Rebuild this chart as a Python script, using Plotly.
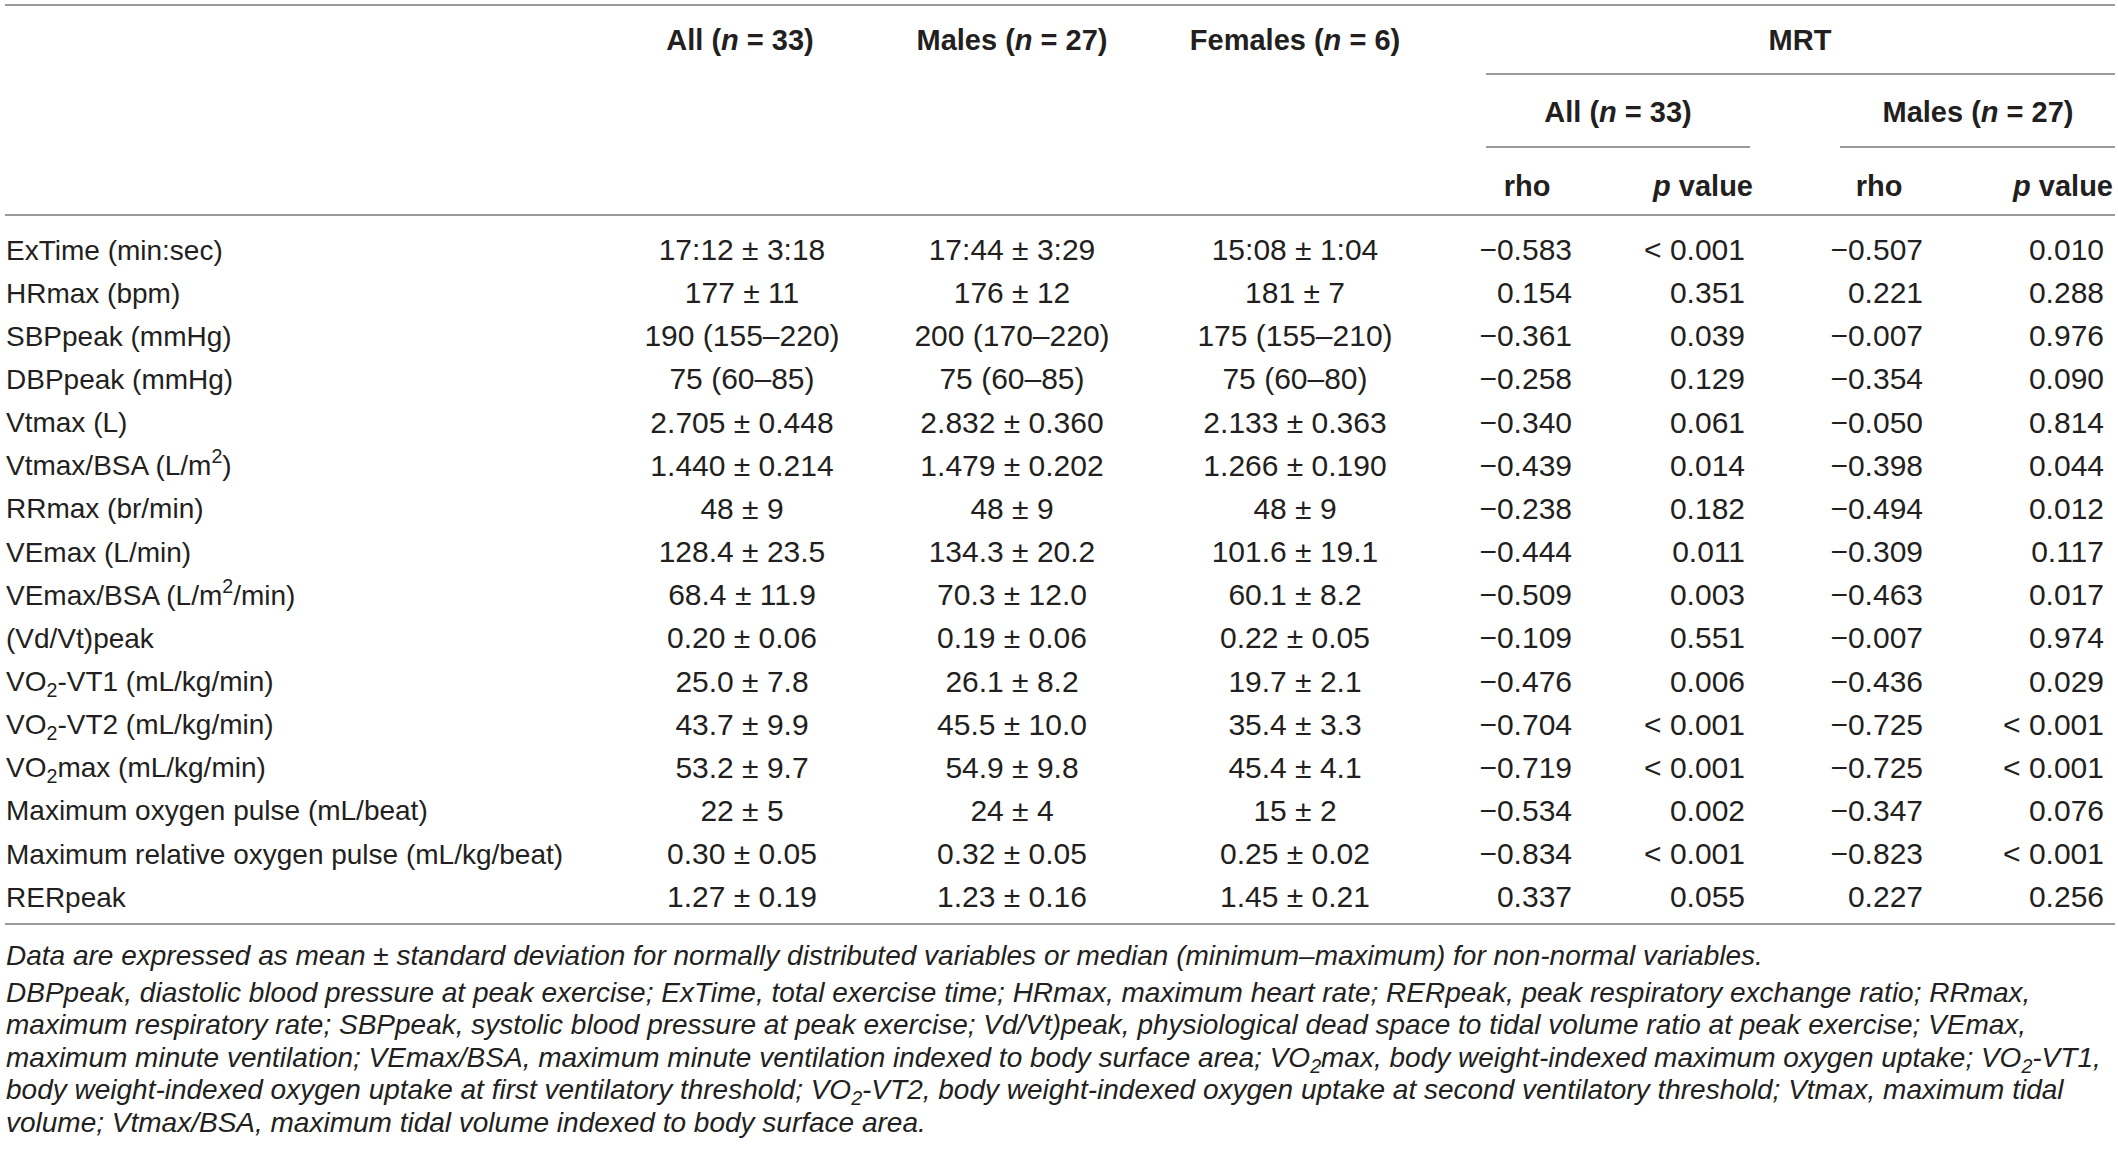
import plotly.graph_objs as go

# Table content
labels = ["ExTime (min:sec)", "HRmax (bpm)", "SBPpeak (mmHg)", "DBPpeak (mmHg)", "Vtmax (L)",
          "Vtmax/BSA (L/m<sup>2</sup>)", "RRmax (br/min)", "VEmax (L/min)",
          "VEmax/BSA (L/m<sup>2</sup>/min)", "(Vd/Vt)peak", "VO<sub>2</sub>-VT1 (mL/kg/min)",
          "VO<sub>2</sub>-VT2 (mL/kg/min)", "VO<sub>2</sub>max (mL/kg/min)",
          "Maximum oxygen pulse (mL/beat)", "Maximum relative oxygen pulse (mL/kg/beat)", "RERpeak"]
all_vals = ["17:12 ± 3:18", "177 ± 11", "190 (155–220)", "75 (60–85)", "2.705 ± 0.448", "1.440 ± 0.214",
            "48 ± 9", "128.4 ± 23.5", "68.4 ± 11.9", "0.20 ± 0.06", "25.0 ± 7.8", "43.7 ± 9.9",
            "53.2 ± 9.7", "22 ± 5", "0.30 ± 0.05", "1.27 ± 0.19"]
male_vals = ["17:44 ± 3:29", "176 ± 12", "200 (170–220)", "75 (60–85)", "2.832 ± 0.360", "1.479 ± 0.202",
             "48 ± 9", "134.3 ± 20.2", "70.3 ± 12.0", "0.19 ± 0.06", "26.1 ± 8.2", "45.5 ± 10.0",
             "54.9 ± 9.8", "24 ± 4", "0.32 ± 0.05", "1.23 ± 0.16"]
female_vals = ["15:08 ± 1:04", "181 ± 7", "175 (155–210)", "75 (60–80)", "2.133 ± 0.363", "1.266 ± 0.190",
               "48 ± 9", "101.6 ± 19.1", "60.1 ± 8.2", "0.22 ± 0.05", "19.7 ± 2.1", "35.4 ± 3.3",
               "45.4 ± 4.1", "15 ± 2", "0.25 ± 0.02", "1.45 ± 0.21"]
rho_all = ["−0.583", "0.154", "−0.361", "−0.258", "−0.340", "−0.439", "−0.238", "−0.444",
           "−0.509", "−0.109", "−0.476", "−0.704", "−0.719", "−0.534", "−0.834", "0.337"]
p_all = ["< 0.001", "0.351", "0.039", "0.129", "0.061", "0.014", "0.182", "0.011",
         "0.003", "0.551", "0.006", "< 0.001", "< 0.001", "0.002", "< 0.001", "0.055"]
rho_male = ["−0.507", "0.221", "−0.007", "−0.354", "−0.050", "−0.398", "−0.494", "−0.309",
            "−0.463", "−0.007", "−0.436", "−0.725", "−0.725", "−0.347", "−0.823", "0.227"]
p_male = ["0.010", "0.288", "0.976", "0.090", "0.814", "0.044", "0.012", "0.117",
          "0.017", "0.974", "0.029", "< 0.001", "< 0.001", "0.076", "< 0.001", "0.256"]

footnotes = [
    "Data are expressed as mean ± standard deviation for normally distributed variables or median (minimum–maximum) for non-normal variables.",
    "DBPpeak, diastolic blood pressure at peak exercise; ExTime, total exercise time; HRmax, maximum heart rate; RERpeak, peak respiratory exchange ratio; RRmax,",
    "maximum respiratory rate; SBPpeak, systolic blood pressure at peak exercise; Vd/Vt)peak, physiological dead space to tidal volume ratio at peak exercise; VEmax,",
    "maximum minute ventilation; VEmax/BSA, maximum minute ventilation indexed to body surface area; VO<sub>2</sub>max, body weight-indexed maximum oxygen uptake; VO<sub>2</sub>-VT1,",
    "body weight-indexed oxygen uptake at first ventilatory threshold; VO<sub>2</sub>-VT2, body weight-indexed oxygen uptake at second ventilatory threshold; Vtmax, maximum tidal",
    "volume; Vtmax/BSA, maximum tidal volume indexed to body surface area.",
]

W, H = 2118, 1165
FONT = "Liberation Sans, Arial, Helvetica, sans-serif"
INK = "#231f20"
RULE = "#9a9a9a"

# row geometry (pixel space, y grows downward)
row0, row_h = 252.5, 43.15
rows_y = [row0 + i * row_h for i in range(len(labels))]
# first footnote is its own paragraph, a little more room after it
note0, note_h, note_gap = 957.5, 32.6, 4.5
notes_y = [note0 + i * note_h + (note_gap if i > 0 else 0) for i in range(len(footnotes))]

fig = go.Figure()


def text_col(x, ys, texts, pos, size=30, bold=False):
    if bold:
        texts = ["<b>%s</b>" % t for t in texts]
    fig.add_trace(go.Scatter(x=[x] * len(ys), y=ys, text=texts, mode="text", textposition=pos,
                             textfont=dict(family=FONT, size=size, color=INK),
                             hoverinfo="skip", showlegend=False))


# body columns
text_col(6, rows_y, labels, "middle right", size=28)
text_col(742, rows_y, all_vals, "middle center")
text_col(1012, rows_y, male_vals, "middle center")
text_col(1295, rows_y, female_vals, "middle center")
text_col(1572, rows_y, rho_all, "middle left")
text_col(1745, rows_y, p_all, "middle left")
text_col(1923, rows_y, rho_male, "middle left")
text_col(2104, rows_y, p_male, "middle left")

# header
HS = 29
text_col(740, [43], ["All (<i>n</i> = 33)"], "middle center", size=HS, bold=True)
text_col(1012, [43], ["Males (<i>n</i> = 27)"], "middle center", size=HS, bold=True)
text_col(1295, [43], ["Females (<i>n</i> = 6)"], "middle center", size=HS, bold=True)
text_col(1800, [43], ["MRT"], "middle center", size=HS, bold=True)
text_col(1618, [115], ["All (<i>n</i> = 33)"], "middle center", size=HS, bold=True)
text_col(1978, [115], ["Males (<i>n</i> = 27)"], "middle center", size=HS, bold=True)
text_col(1527, [189], ["rho"], "middle center", size=HS, bold=True)
text_col(1753, [189], ["<i>p</i> value"], "middle left", size=HS, bold=True)
text_col(1879, [189], ["rho"], "middle center", size=HS, bold=True)
text_col(2113, [189], ["<i>p</i> value"], "middle left", size=HS, bold=True)

# footnotes
text_col(6, notes_y, ["<i>%s</i>" % t for t in footnotes], "middle right", size=28)

# horizontal rules
rules = [(5, 2115, 5), (1486, 2115, 74), (1486, 1750, 147), (1840, 2115, 147),
         (5, 2115, 215), (5, 2115, 924)]
for x0, x1, y in rules:
    fig.add_shape(type="line", xref="x", yref="y", x0=x0, x1=x1, y0=y, y1=y,
                  line=dict(color=RULE, width=2))

hidden = dict(visible=False, showgrid=False, zeroline=False, fixedrange=True)
fig.update_layout(
    width=W, height=H,
    margin=dict(l=0, r=0, t=0, b=0),
    paper_bgcolor="white", plot_bgcolor="white",
    xaxis=dict(hidden, range=[0, W]),
    yaxis=dict(hidden, range=[H, 0]),
    showlegend=False,
)

fig.write_html("out.html", config={"displayModeBar": False},
               post_script="document.body.style.margin='0';")
